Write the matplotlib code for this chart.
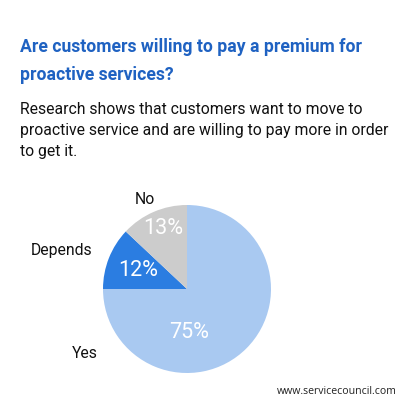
import matplotlib.pyplot as plt

labels = ["Yes", "Depends", "No"]
shares = [75, 12, 13]
colors = ["#a9c9f1", "#2b7de1", "#cccccc"]

title_lines = "Are customers willing to pay a premium for\nproactive services?"
subtitle = ("Research shows that customers want to move to\n"
            "proactive service and are willing to pay more in order\n"
            "to get it.")
footer = "www.servicecouncil.com"

W = H = 398


def px(x, y):
    # pixel coords (from top-left) -> figure fraction
    return x / W, 1 - y / H


fig = plt.figure(figsize=(3.98, 3.98), dpi=100)
fig.patch.set_facecolor("white")

fig.text(*px(20, 61), title_lines, fontsize=12.7, fontweight="bold",
         color="#1f62c2", family="Roboto", va="center", linespacing=1.7)
fig.text(*px(20, 131), subtitle, fontsize=11.3, color="#111111",
         family="Roboto", va="center", linespacing=1.5)
fig.text(*px(397, 391), footer, fontsize=7.6, color="#222222",
         family="Open Sans", ha="right", va="center")

cx, cy, r = 187, 289, 84
ax = fig.add_axes([(cx - r) / W, (H - cy - r) / H, 2 * r / W, 2 * r / H])
ax.pie(shares, colors=colors, startangle=90, counterclock=False, radius=1,
       wedgeprops=dict(linewidth=0))
ax.set_xlim(-1, 1)
ax.set_ylim(-1, 1)
ax.set_aspect("equal")
ax.axis("off")

# percentage labels inside wedges (pixel positions)
pct_pos = [(189, 333), (138, 270), (163, 229)]
for (x, y), v in zip(pct_pos, shares):
    ax.text((x - cx) / r, (cy - y) / r, f"{v}%", color="white", fontsize=15.5,
            family="Roboto", ha="center", va="center")

# category labels outside the pie
lab_pos = [(85, 353), (62, 251), (145, 200)]
for (x, y), name in zip(lab_pos, labels):
    fig.text(*px(x, y), name, fontsize=11.3, color="#111111", family="Roboto",
             ha="center", va="center")

fig.savefig("out.png", dpi=100)
